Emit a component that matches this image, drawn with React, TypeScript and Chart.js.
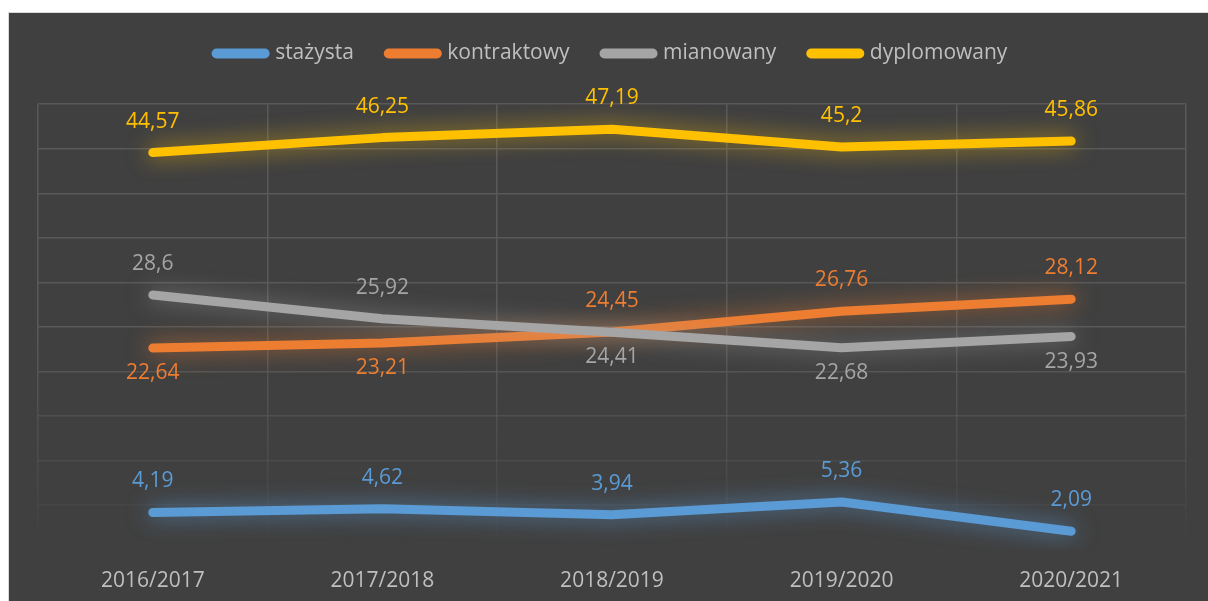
import React, { useEffect, useRef } from 'react';
import { Chart, registerables } from 'chart.js';

Chart.register(...registerables);

const categories = ['2016/2017', '2017/2018', '2018/2019', '2019/2020', '2020/2021'];
const seriesNames = ['stażysta', 'kontraktowy', 'mianowany', 'dyplomowany'];
const stazysta = [4.19, 4.62, 3.94, 5.36, 2.09];
const kontraktowy = [22.64, 23.21, 24.45, 26.76, 28.12];
const mianowany = [28.6, 25.92, 24.41, 22.68, 23.93];
const dyplomowany = [44.57, 46.25, 47.19, 45.2, 45.86];
const yMin = 0;
const yMax = 50;
const yStep = 5;

const stazystaSides = ['above', 'above', 'above', 'above', 'above'];
const kontraktowySides = ['below', 'below', 'above', 'above', 'above'];
const mianowanySides = ['above', 'above', 'below', 'below', 'below'];
const dyplomowanySides = ['above', 'above', 'above', 'above', 'above'];

const colors = ['#5b9bd5', '#ed7d31', '#a5a5a5', '#ffc000'];
const glows = [
  'rgba(91,155,213,0.75)',
  'rgba(237,125,49,0.7)',
  'rgba(165,165,165,0.6)',
  'rgba(255,192,0,0.65)',
];
const FONT = "'Open Sans', 'DejaVu Sans', sans-serif";
const TEXT = '#bfbfbf';

const fmt = (v: number) => String(v).replace('.', ',');

const glowPlugin = {
  id: 'glow',
  beforeDatasetDraw(chart: any, args: any) {
    const ds = chart.data.datasets[args.index];
    const ctx = chart.ctx;
    ctx.save();
    ctx.shadowColor = ds.glowColor;
    ctx.shadowBlur = 22;
  },
  afterDatasetDraw(chart: any) {
    chart.ctx.restore();
  },
};

const labelPlugin = {
  id: 'valueLabels',
  afterDatasetsDraw(chart: any) {
    const ctx = chart.ctx;
    ctx.save();
    ctx.font = `21px ${FONT}`;
    ctx.textAlign = 'center';
    ctx.textBaseline = 'middle';
    chart.data.datasets.forEach((ds: any, i: number) => {
      const meta = chart.getDatasetMeta(i);
      ctx.fillStyle = ds.borderColor;
      meta.data.forEach((pt: any, j: number) => {
        const side = ds.labelSides[j];
        const y = side === 'above' ? pt.y - 31 : pt.y + 25;
        ctx.fillText(fmt(ds.data[j]), pt.x, y);
      });
    });
    ctx.restore();
  },
};

const gridAlpha = (v: number) => {
  if (v >= 25) return 1;
  if (v >= 20) return 0.85;
  if (v >= 15) return 0.65;
  if (v >= 10) return 0.45;
  if (v >= 5) return 0.22;
  return 0;
};

export default function App() {
  const ref = useRef<HTMLCanvasElement>(null);

  useEffect(() => {
    if (!ref.current) return;
    const seriesData = [stazysta, kontraktowy, mianowany, dyplomowany];
    const sides = [stazystaSides, kontraktowySides, mianowanySides, dyplomowanySides];
    const chart = new Chart(ref.current, {
      type: 'line',
      data: {
        labels: categories,
        datasets: seriesData.map((d, i) => ({
          label: seriesNames[i],
          data: d,
          borderColor: colors[i],
          backgroundColor: colors[i],
          borderWidth: 9,
          borderCapStyle: 'round',
          borderJoinStyle: 'round',
          pointRadius: 0,
          pointHoverRadius: 0,
          tension: 0,
          fill: false,
          order: 4 - i,
          glowColor: glows[i],
          labelSides: sides[i],
        })) as any,
      },
      options: {
        responsive: false,
        animation: false,
        events: [],
        layout: { padding: { left: 29, right: 22, top: -5, bottom: 9 } },
        plugins: {
          tooltip: { enabled: false },
          title: {
            display: true,
            text: '',
            weight: 500,
            font: { size: 1 },
            padding: { top: 29, bottom: 0 },
          } as any,
          legend: {
            position: 'top',
            align: 'center',
            labels: {
              color: TEXT,
              font: { family: FONT, size: 21 },
              boxWidth: 48,
              boxHeight: 21,
              padding: 35,
              usePointStyle: true,
              pointStyleWidth: 48,
              generateLabels: (chart: any) => {
                return chart.data.datasets.map((ds: any, i: number) => ({
                  text: ds.label,
                  fillStyle: ds.borderColor,
                  strokeStyle: ds.borderColor,
                  fontColor: TEXT,
                  lineWidth: 10,
                  lineCap: 'round',
                  pointStyle: 'line',
                  hidden: false,
                  datasetIndex: i,
                }));
              },
            },
          },
        },
        scales: {
          x: {
            offset: true,
            grid: {
              offset: true,
              drawTicks: false,
              lineWidth: 1.5,
              color: (c: any) => {
                const ch = c.chart;
                const a = ch.chartArea;
                if (!a) return 'rgba(89,89,89,1)';
                const g = ch.ctx.createLinearGradient(0, a.top, 0, a.bottom);
                g.addColorStop(0, 'rgba(89,89,89,1)');
                g.addColorStop(0.5, 'rgba(89,89,89,1)');
                g.addColorStop(0.8, 'rgba(89,89,89,0.45)');
                g.addColorStop(1, 'rgba(89,89,89,0)');
                return g;
              },
            },
            border: { display: false },
            ticks: {
              color: TEXT,
              font: { family: FONT, size: 21 },
              padding: 19,
              maxRotation: 0,
            },
          },
          y: {
            min: yMin,
            max: yMax,
            ticks: { display: false, stepSize: yStep },
            border: { display: false },
            grid: {
              drawTicks: false,
              lineWidth: 1.5,
              color: (c: any) => `rgba(89,89,89,${gridAlpha(c.tick ? c.tick.value : 0)})`,
            },
          },
        },
      },
      plugins: [glowPlugin, labelPlugin],
    });
    return () => chart.destroy();
  }, []);

  return (
    <div
      style={{
        position: 'fixed',
        left: 8,
        top: 12,
        width: 1210,
        height: 620,
        background: '#404040',
        border: '1px solid #d9d9d9',
        boxSizing: 'border-box',
        overflow: 'hidden',
      }}
    >
      <canvas
        ref={ref}
        width={1199}
        height={609}
        style={{ position: 'absolute', left: 0, top: 0, display: 'block' }}
      />
    </div>
  );
}
